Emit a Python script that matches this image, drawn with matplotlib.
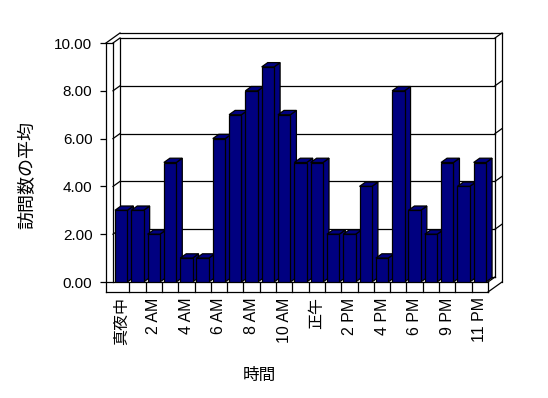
import numpy as np
import matplotlib.pyplot as plt

plt.rcParams['font.family'] = ['Liberation Sans', 'Noto Sans CJK JP']

# 時間帯 (20時が欠けている)
hours = ['真夜中', '1 AM', '2 AM', '3 AM', '4 AM', '5 AM', '6 AM', '7 AM', '8 AM',
         '9 AM', '10 AM', '11 AM', '正午', '1 PM', '2 PM', '3 PM', '4 PM', '5 PM',
         '6 PM', '7 PM', '9 PM', '10 PM', '11 PM']
visits = [3, 3, 2, 5, 1, 1, 6, 7, 8, 9, 7, 5, 5, 2, 2, 4, 1, 8, 3, 2, 5, 4, 5]

W, H = 548, 398
fig = plt.figure(figsize=(W / 100, H / 100), dpi=100)
ax = fig.add_axes([113 / W, (H - 282) / H, 375 / W, 239 / H])

n = len(visits)
x = np.arange(n)
L, R = -0.5, n - 0.5
ax.set_xlim(L, R)
ax.set_ylim(0, 10)

# 奥行き (7px, 5px) をデータ単位に
p0 = ax.transData.transform((0, 0))
p1 = ax.transData.transform((1, 1))
ddx = 7 / (p1[0] - p0[0])
ddy = 5 / (p1[1] - p0[1])
hy = 10 / (p1[1] - p0[1])   # 床の厚さ


def P(xx, vv, k):
    return (xx + k * ddx, vv + k * ddy)


def seg(a, b, z=1):
    ax.plot([a[0], b[0]], [a[1], b[1]], color='black', lw=0.9,
            clip_on=False, zorder=z, solid_capstyle='projecting')


# 壁と床
seg(P(L - ddx, 10, 0), P(L - ddx, -hy, 0))
seg(P(L, 10, 0), P(L, 0, 0))
seg(P(L - ddx, 10, 0), P(L, 10, 0))
seg(P(L - ddx, 10, 0), P(L - ddx, 10, 2))
seg(P(L, 10, 0), P(L, 10, 1))
seg(P(L - ddx, 10, 2), P(R, 10, 2))
seg(P(L, 10, 1), P(R, 10, 1))
seg(P(L, 0, 1), P(R, 0, 1))
seg(P(L, 0, 1), P(L, 10, 1))
seg(P(R, 0, 1), P(R, 10, 1))
seg(P(R, 10, 1), P(R, 10, 2))
seg(P(R, 10, 2), P(R, -hy, 2))
seg(P(L - ddx, 0, 0), P(R, 0, 0))
seg(P(L - ddx, -hy, 0), P(R, -hy, 0))
seg(P(R, 0, 0), P(R, -hy, 0))
seg(P(R, 0, 0), P(R, 0, 1))
seg(P(R, -hy, 0), P(R, -hy, 2))
for k in range(1, n):
    seg(P(k - 0.5, 0, 0), P(k - 0.5, -hy, 0))

# 目盛線
for v in [2, 4, 6, 8]:
    seg(P(L, v, 0), P(L, v, 1))
    seg(P(L, v, 1), P(R, v, 1))
    seg(P(R, v, 1), P(R, v, 2))

# 縦棒 (3D)
bw = 0.76
bd = 0.86
navy = '#000080'
bars = ax.bar(x, visits, width=bw, color=navy, edgecolor='black', linewidth=0.9)
for i, (p, v) in enumerate(zip(bars, visits)):
    z = 3 + 2 * i
    p.set_zorder(z + 1)
    xl, xr = x[i] - bw / 2, x[i] + bw / 2
    side = [P(xr, 0, 0), P(xr, v, 0), P(xr, v, bd), P(xr, 0, bd)]
    top = [P(xl, v, 0), P(xr, v, 0), P(xr, v, bd), P(xl, v, bd)]
    for poly in (side, top):
        ax.add_patch(plt.Polygon(poly, closed=True, facecolor=navy,
                                 edgecolor='black', linewidth=0.9,
                                 clip_on=False, zorder=z))

# 軸
for s in ['top', 'right', 'bottom']:
    ax.spines[s].set_visible(False)
ax.spines['left'].set_position(('outward', 7 * 0.72))
ax.spines['left'].set_visible(False)
ax.set_yticks([0, 2, 4, 6, 8, 10])
ax.set_yticklabels(['%.2f' % t for t in [0, 2, 4, 6, 8, 10]], fontsize=11)
ax.tick_params(axis='y', length=4.3, width=0.9, pad=5.5)
ax.set_xticks(x[::2])
ax.set_xticklabels(hours[::2], rotation=90, fontsize=11.5)
ax.tick_params(axis='x', length=0, pad=11)

ax.set_ylabel('訪問数の平均', fontsize=13)
ax.set_xlabel('時間', fontsize=12)
ax.yaxis.set_label_coords(-77 / 375, 0.448)
ax.xaxis.set_label_coords(0.39, -86 / 239)

fig.savefig('out.png', dpi=100, facecolor='white')
